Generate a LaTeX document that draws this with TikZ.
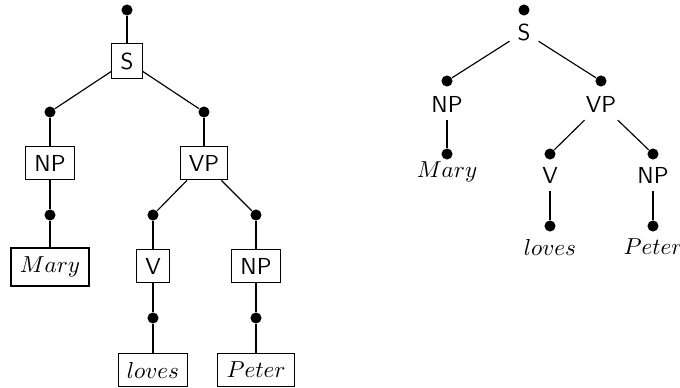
\documentclass[tikz,border=0pt]{standalone}
\begin{document}
\begin{tikzpicture}[x=0.4326pt,y=-0.4326pt,
  box/.style={draw,line width=0.5pt,font=\sffamily,inner sep=3.8pt},
  wbox/.style={draw,line width=0.5pt,inner sep=3.8pt},
  lbl/.style={font=\sffamily,inner sep=3.3pt},
  wlbl/.style={inner sep=3.3pt},
  dot/.style={circle,fill=black,inner sep=0pt,minimum size=4.8pt},
  edge/.style={line width=0.5pt},
  stem/.style={line width=0.7pt}]
\useasboundingbox (0,0) rectangle (680,388);

% boxed tree
\node[dot] (r0) at (127,10) {};
\node[box] (s) at (127,61) {S};
\node[dot] (d1) at (50,112) {};
\node[dot] (d2) at (204,112) {};
\node[box] (np1) at (50,163) {NP};
\node[box] (vp) at (204,163) {VP};
\node[dot] (d3) at (50,215) {};
\node[wbox] (mary) at (50,267) {$Mary$};
\node[dot] (d4) at (153,215) {};
\node[dot] (d5) at (256,215) {};
\node[box] (v) at (153,266) {V};
\node[box] (np2) at (256,266) {NP};
\node[dot] (d6) at (153,318) {};
\node[dot] (d7) at (256,318) {};
\node[wbox] (loves) at (153,370) {$loves$};
\node[wbox] (peter) at (256,370) {$Peter$};

\draw[edge] (r0) -- (s);
\draw[edge] (s) -- (d1);
\draw[edge] (s) -- (d2);
\draw[stem] (d1) -- (np1);
\draw[stem] (d2) -- (vp);
\draw[edge] (np1) -- (d3);
\draw[stem] (d3) -- (mary);
\draw[edge] (vp) -- (d4);
\draw[edge] (vp) -- (d5);
\draw[stem] (d4) -- (v);
\draw[stem] (d5) -- (np2);
\draw[edge] (v) -- (d6);
\draw[edge] (np2) -- (d7);
\draw[stem] (d6) -- (loves);
\draw[stem] (d7) -- (peter);

% plain tree
\node[dot] (q0) at (524,10) {};
\node[lbl] (s') at (524,32) {S};
\node[dot] (e1) at (447,81) {};
\node[dot] (e2) at (601,81) {};
\node[lbl] (np1') at (447,104) {NP};
\node[lbl] (vp') at (601,104) {VP};
\node[dot] (e3) at (447,154) {};
\node[wlbl] (mary') at (447,172) {$Mary$};
\node[dot] (e4) at (550,154) {};
\node[dot] (e5) at (653,154) {};
\node[lbl] (v') at (550,175) {V};
\node[lbl] (np2') at (653,175) {NP};
\node[dot] (e6) at (550,226) {};
\node[dot] (e7) at (653,226) {};
\node[wlbl] (loves') at (550,247) {$loves$};
\node[wlbl] (peter') at (653,247) {$Peter$};

\draw[edge] (s') -- (e1);
\draw[edge] (s') -- (e2);
\draw[edge] (np1') -- (e3);
\draw[edge] (vp') -- (e4);
\draw[edge] (vp') -- (e5);
\draw[edge] (v') -- (e6);
\draw[edge] (np2') -- (e7);
\end{tikzpicture}
\end{document}
